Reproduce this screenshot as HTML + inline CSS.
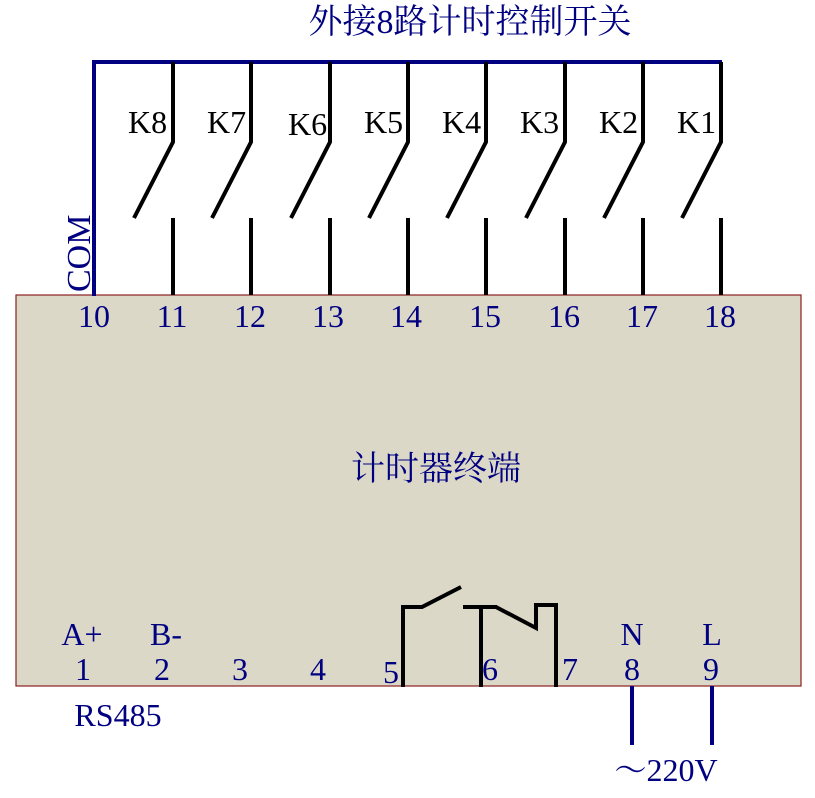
<!DOCTYPE html>
<html><head><meta charset="utf-8"><style>
body{margin:0;background:#fff;width:815px;height:793px;overflow:hidden}
svg text{font-family:"Liberation Serif","Noto Serif CJK SC",serif;fill:#000080}
</style></head><body>
<svg width="815" height="793" xmlns="http://www.w3.org/2000/svg">
<rect x="16" y="295" width="785" height="391" fill="#dcd8c8" stroke="#8b2020" stroke-width="1.2"/>
<text x="470" y="33" font-size="34" text-anchor="middle">外接8路计时控制开关</text>
<polyline points="94,296 94,62 722,62" fill="none" stroke="#000080" stroke-width="4"/>
<g stroke="#000" stroke-width="4" fill="none">
<polyline points="173,62 173,142 134,218"/><line x1="173" y1="218" x2="173" y2="295"/>
<polyline points="251,62 251,142 212,218"/><line x1="251" y1="218" x2="251" y2="295"/>
<polyline points="330,62 330,142 291,218"/><line x1="330" y1="218" x2="330" y2="295"/>
<polyline points="408,62 408,142 369,218"/><line x1="408" y1="218" x2="408" y2="295"/>
<polyline points="486,62 486,142 447,218"/><line x1="486" y1="218" x2="486" y2="295"/>
<polyline points="565,62 565,142 526,218"/><line x1="565" y1="218" x2="565" y2="295"/>
<polyline points="643,62 643,142 604,218"/><line x1="643" y1="218" x2="643" y2="295"/>
<polyline points="721,62 721,142 682,218"/><line x1="721" y1="218" x2="721" y2="295"/>
<polyline points="403,687 403,607 422,607 461,587"/>
<line x1="463" y1="607" x2="497" y2="607"/><line x1="481" y1="607" x2="481" y2="687"/>
<polyline points="496,607 536,628 536,605 556,605 556,687"/>
</g>
<g font-size="32">
<text x="128" y="133" style="fill:#000">K8</text><text x="207" y="133" style="fill:#000">K7</text>
<text x="288" y="135" style="fill:#000">K6</text><text x="364" y="133" style="fill:#000">K5</text>
<text x="442" y="133" style="fill:#000">K4</text><text x="520" y="133" style="fill:#000">K3</text>
<text x="599" y="133" style="fill:#000">K2</text><text x="677" y="133" style="fill:#000">K1</text>
</g>
<text transform="translate(90,292) rotate(-90)" font-size="34">COM</text>
<g font-size="32" text-anchor="middle">
<text x="94" y="327">10</text><text x="172" y="327">11</text><text x="250" y="327">12</text>
<text x="328" y="327">13</text><text x="406" y="327">14</text><text x="485" y="327">15</text>
<text x="564" y="327">16</text><text x="642" y="327">17</text><text x="720" y="327">18</text>
<text x="436" y="480" font-size="34">计时器终端</text>
<text x="82" y="645">A+</text><text x="166" y="645">B-</text>
<text x="632" y="645">N</text><text x="712" y="645">L</text>
<text x="83" y="680">1</text><text x="162" y="680">2</text><text x="240" y="680">3</text>
<text x="318" y="680">4</text><text x="391" y="683">5</text><text x="490" y="680">6</text>
<text x="570" y="680">7</text><text x="632" y="680">8</text><text x="711" y="680">9</text>
<text x="118" y="726">RS485</text>
<text x="666" y="781">～220V</text>
</g>
<g stroke="#000080" stroke-width="4">
<line x1="632" y1="686" x2="632" y2="745"/><line x1="712" y1="686" x2="712" y2="745"/>
</g>
</svg>
</body></html>
